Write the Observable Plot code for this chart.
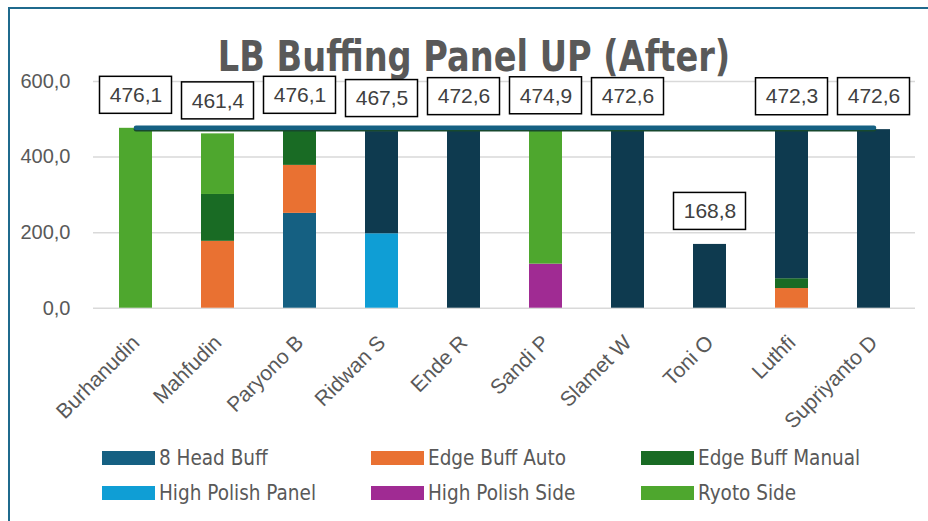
<!DOCTYPE html>
<html>
<head>
<meta charset="utf-8">
<script src="https://cdn.jsdelivr.net/npm/d3@7"></script>
<script src="https://cdn.jsdelivr.net/npm/@observablehq/plot@0.6"></script>
<style>
html, body { margin: 0; padding: 0; background: #fff; width: 928px; height: 521px; overflow: hidden; }
#wrap { position: relative; width: 928px; height: 521px; }
#frame { position: absolute; left: 8px; top: 7px; width: 1000px; height: 600px; border: 2px solid #1f6a8d; box-sizing: border-box; }
#title { position: absolute; left: 0; width: 948px; top: 36px; text-align: center; font: bold 42px/42px "Liberation Sans Narrow", "DejaVu Sans Condensed", sans-serif; color: #595959; white-space: nowrap; transform: scaleX(0.89); transform-origin: 474px 0; }
#chart { position: absolute; left: 0; top: 0; }
#legend { position: absolute; left: 102px; top: 449px; display: grid; grid-template-columns: 269px 270px 270px; grid-auto-rows: 35px; }
.leg { display: flex; align-items: center; height: 18px; font: 20.5px/20px "Liberation Sans Narrow", "DejaVu Sans Condensed", sans-serif; color: #595959; white-space: nowrap; }
.sw { width: 53px; height: 14px; margin-right: 4px; flex: none; }
</style>
</head>
<body>
<div id="wrap">
  <div id="frame"></div>
  <div id="title">LB Buffing Panel UP (After)</div>
  <div id="chart"></div>
  <div id="legend"></div>
</div>
<script>
const names = ["Burhanudin", "Mahfudin", "Paryono B", "Ridwan S", "Ende R", "Sandi P", "Slamet W", "Toni O", "Luthfi", "Supriyanto D"];
const seriesNames = ["8 Head Buff", "Edge Buff Auto", "Edge Buff Manual", "High Polish Panel", "High Polish Side", "Ryoto Side", "Series 7"];
const legendNames = ["8 Head Buff", "Edge Buff Auto", "Edge Buff Manual", "High Polish Panel", "High Polish Side", "Ryoto Side"];
const seriesColors = ["#156082", "#E97132", "#196B24", "#0F9ED5", "#A02B93", "#4EA72E", "#0E3A4F"];

const headBuff8   = [0, 0, 251, 0, 0, 0, 0, 0, 0, 0];
const edgeAuto    = [0, 177, 127, 0, 0, 0, 0, 0, 52, 0];
const edgeManual  = [0, 124, 98.1, 0, 0, 0, 0, 0, 26, 0];
const hpPanel     = [0, 0, 0, 197, 0, 0, 0, 0, 0, 0];
const hpSide      = [0, 0, 0, 0, 0, 116.6, 0, 0, 0, 0];
const ryotoSide   = [476.1, 160.4, 0, 0, 0, 358.3, 0, 0, 0, 0];
const series7     = [0, 0, 0, 270.5, 472.6, 0, 472.6, 168.8, 394.3, 472.6];
const totals      = [476.1, 461.4, 476.1, 467.5, 472.6, 474.9, 472.6, 168.8, 472.3, 472.6];
const lineLevel   = 476.1;
const yTicks      = [0, 200, 400, 600];

const seriesValues = [headBuff8, edgeAuto, edgeManual, hpPanel, hpSide, ryotoSide, series7];
const rows = [];
seriesNames.forEach((s, i) => names.forEach((n, j) => rows.push({name: n, series: s, value: seriesValues[i][j]})));
const labelRows = names.map((n, j) => ({name: n, total: totals[j]}));
const fmt = d => d.toFixed(1).replace(".", ",");

const chart = Plot.plot({
  width: 928,
  height: 430,
  marginLeft: 93,
  marginRight: 13,
  marginTop: 81,
  marginBottom: 122.3,
  style: {background: "transparent", fontFamily: "'Liberation Sans', Arial, sans-serif", overflow: "visible"},
  x: {domain: names, paddingInner: 0.6, paddingOuter: 0.3, label: null},
  y: {domain: [0, 600], label: null},
  color: {domain: seriesNames, range: seriesColors},
  marks: [
    Plot.gridY(yTicks, {stroke: "#d9d9d9", strokeOpacity: 1, strokeWidth: 1.5}),
    Plot.barY(rows, {x: "name", y: "value", fill: "series"}),
    Plot.line([names[0], names[names.length - 1]], {x: d => d, y: () => lineLevel, stroke: "#17482e", strokeWidth: 4.5, strokeLinecap: "round", dy: 1}),
    Plot.line([names[0], names[names.length - 1]], {x: d => d, y: () => lineLevel, stroke: "#156082", strokeWidth: 4.5, strokeLinecap: "round", dy: -0.5}),
    Plot.barY(labelRows, {x: "name", y1: "total", y2: "total", fill: "white", stroke: "black", strokeWidth: 1.5,
      insetLeft: -19.5, insetRight: -19.5, insetTop: -51.5, insetBottom: 14.5}),
    Plot.text(labelRows, {x: "name", y: "total", text: d => fmt(d.total), dy: -33, fontSize: 21, fill: "#404040"}),
    Plot.axisY({ticks: yTicks, tickFormat: fmt, tickSize: 0, tickPadding: 23, fontSize: 20, fill: "#595959", label: null}),
    Plot.axisX({tickRotate: -45, tickSize: 0, tickPadding: 31, fontSize: 21, fill: "#595959", label: null})
  ]
});
document.getElementById("chart").appendChild(chart);

const legend = document.getElementById("legend");
legendNames.forEach(name => {
  const item = document.createElement("div");
  item.className = "leg";
  const sw = document.createElement("span");
  sw.className = "sw";
  sw.style.background = seriesColors[seriesNames.indexOf(name)];
  const label = document.createElement("span");
  label.textContent = name;
  item.appendChild(sw);
  item.appendChild(label);
  legend.appendChild(item);
});
</script>
</body>
</html>
